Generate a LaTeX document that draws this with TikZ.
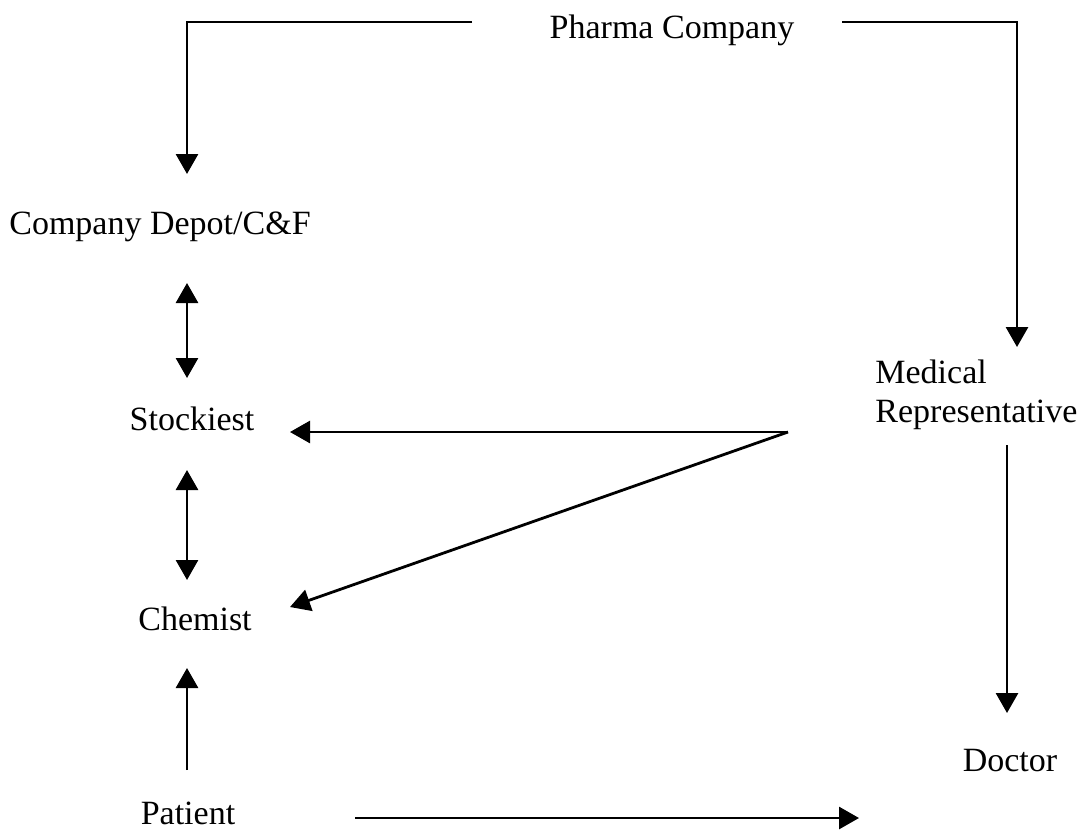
\documentclass[tikz,border=0pt]{standalone}
\usepackage{fontspec}
\setmainfont{Liberation Serif}
\usetikzlibrary{arrows.meta}
\begin{document}
\begin{tikzpicture}[x=0.5pt,y=-0.5pt,
  lbl/.style={inner sep=0pt,anchor=base,font=\fontsize{17}{20}\selectfont},
  flow/.style={line width=1.4pt,-{Triangle[length=10pt,width=11pt]}},
  both/.style={line width=1.4pt,{Triangle[length=10pt,width=11pt]}-{Triangle[length=10pt,width=11pt]}}]
\useasboundingbox (0,0) rectangle (1080,832);
% labels
\node[lbl] (pharma) at (672,38) {Pharma Company};
\node[lbl] (depot) at (160,234) {Company Depot/C\&F};
\node[lbl] (stock) at (192,430) {Stockiest};
\node[lbl] (chem) at (195,630) {Chemist};
\node[lbl] (patient) at (188,824) {Patient};
\node[lbl,anchor=base west,align=left] (mr) at (875,422) {Medical\\[-0.5pt]Representative};
\node[lbl] (doctor) at (1010,771) {Doctor};
% connector end points
\coordinate (pL) at (472,22);
\coordinate (pR) at (842,22);
\coordinate (dTop) at (187,174);
\coordinate (mrTop) at (1017,347);
\coordinate (dBot) at (187,283);
\coordinate (sTop) at (187,378);
\coordinate (sBot) at (187,470);
\coordinate (cTop) at (187,580);
\coordinate (cBot) at (187,668);
\coordinate (ptTop) at (187,770);
\coordinate (mrL) at (788,432);
\coordinate (sR) at (290,432);
\coordinate (cR) at (290,607);
\coordinate (mrBot) at (1007,445);
\coordinate (docTop) at (1007,713);
\coordinate (ptR) at (355,818);
\coordinate (docL) at (859,818);
% connectors
\draw[flow] (pL) -| (dTop);
\draw[flow] (pR) -| (mrTop);
\draw[both] (dBot) -- (sTop);
\draw[both] (sBot) -- (cTop);
\draw[flow] (ptTop) -- (cBot);
\draw[flow] (mrL) -- (sR);
\draw[flow] (mrL) -- (cR);
\draw[flow] (mrBot) -- (docTop);
\draw[flow] (ptR) -- (docL);
\end{tikzpicture}
\end{document}
